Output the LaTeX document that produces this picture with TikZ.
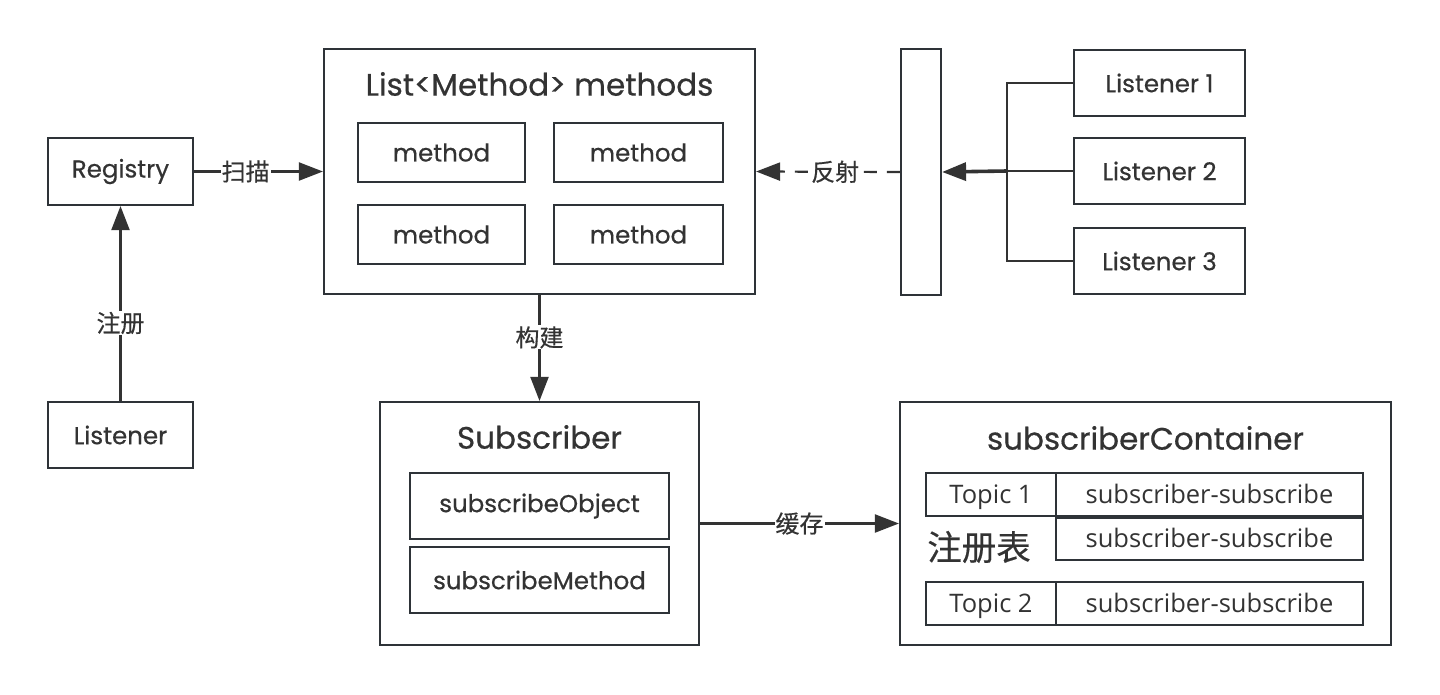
\documentclass[tikz,border=0pt]{standalone}
\usepackage{fontspec}
\setmainfont{Poppins}[FakeBold=0.5]
\newfontfamily\cjk{Noto Sans CJK SC}[FakeBold=0.4]
\newfontfamily\segoe{Open Sans}
\usetikzlibrary{arrows.meta}
\definecolor{bd}{HTML}{2E3338}
\definecolor{tx}{HTML}{333333}
\begin{document}
\begin{tikzpicture}[x=1pt,y=-1pt,
  box/.style={draw=bd,line width=2.2pt,fill=white,inner sep=0pt,text=tx,font=\fontsize{24.5}{26}\selectfont},
  topbox/.style={box,font=\segoe\fontsize{25.5}{27}\selectfont,text height=23pt,text depth=6pt},
  ttl/.style={text=tx,inner sep=0pt,font=\fontsize{31}{34}\selectfont},
  lab/.style={fill=white,text=tx,inner sep=1pt,font=\cjk\fontsize{24}{26}\selectfont},
  conn/.style={draw=tx,line width=2.2pt},
  arr/.style={conn,-{Triangle[length=24pt,width=18pt]}}
]
\useasboundingbox (0,0) rectangle (1440,694);
\fill[white] (0,0) rectangle (1440,694);

% left column
\node[box,minimum width=145pt,minimum height=67pt] (reg) at (120.5,171.5) {Registry};
\node[box,minimum width=145pt,minimum height=66pt] (lis) at (120.5,435) {Listener};

% List<Method> box
\node[box,minimum width=431pt,minimum height=245pt] (list) at (539.5,171.5) {};
\node[ttl] (listt) at (539.5,84) {List<Method> methods};
\node[box,minimum width=167pt,minimum height=59pt] (m1) at (441.5,152.5) {method};
\node[box,minimum width=169pt,minimum height=59pt] (m2) at (638.5,152.5) {method};
\node[box,minimum width=167pt,minimum height=59pt] (m3) at (441.5,234.5) {method};
\node[box,minimum width=169pt,minimum height=59pt] (m4) at (638.5,234.5) {method};

% bar and listeners
\node[box,minimum width=40pt,minimum height=246pt] (bar) at (921,172) {};
\node[box,minimum width=171pt,minimum height=66pt] (l1) at (1159.5,83) {Listener 1};
\node[box,minimum width=171pt,minimum height=66pt] (l2) at (1159.5,171) {Listener 2};
\node[box,minimum width=171pt,minimum height=66pt] (l3) at (1159.5,261) {Listener 3};

% Subscriber
\node[box,minimum width=319pt,minimum height=243pt] (sub) at (539.5,523.5) {};
\node[ttl] (subt) at (539.5,437) {Subscriber};
\node[box,minimum width=259pt,minimum height=66pt] (so) at (539.5,506) {subscribeObject};
\node[box,minimum width=259pt,minimum height=66pt] (sm) at (539.5,580) {subscribeMethod};

% subscriberContainer
\node[box,minimum width=491pt,minimum height=243pt] (cont) at (1145.5,523.5) {};
\node[ttl] (contt) at (1145.5,438) {subscriberContainer};
\node[topbox,minimum width=130pt,minimum height=43pt] (t1) at (991,494.5) {Topic 1};
\node[topbox,minimum width=307pt,minimum height=43pt] (s1) at (1209.5,494.5) {subscriber-subscribe};
\node[topbox,minimum width=307pt,minimum height=42pt] (s2) at (1209.5,539) {subscriber-subscribe};
\node[text=tx,inner sep=0pt,font=\cjk\fontsize{34.5}{36}\selectfont] (zcb) at (979,547) {注册表};
\node[topbox,minimum width=130pt,minimum height=43pt] (t2) at (991,603.5) {Topic 2};
\node[topbox,minimum width=307pt,minimum height=43pt] (s3) at (1209.5,603.5) {subscriber-subscribe};

% connectors
\draw[arr] (lis.north) -- node[lab,pos=0.4]{注册} (reg.south);
\draw[arr] (reg.east) -- node[lab,pos=0.4]{扫描} (list.west);
\draw[arr] (list.south) -- node[lab,pos=0.4]{构建} (sub.north);
\draw[arr] (sub.east) -- node[lab,pos=0.5]{缓存} (cont.west);
\draw[arr,dash pattern=on 13pt off 10pt] (bar.west) -- node[lab,pos=0.45]{反射} (list.east);

\coordinate (j) at (1007,171);
\draw[conn] (l1.west) -- (l1.west -| j) -- (l3.west -| j) -- (l3.west);
\draw[conn] (l2.west) -- (j);
\draw[conn,line width=3.6pt,-{Triangle[length=24pt,width=18pt]}] (j) -- (bar.east);
\end{tikzpicture}
\end{document}
